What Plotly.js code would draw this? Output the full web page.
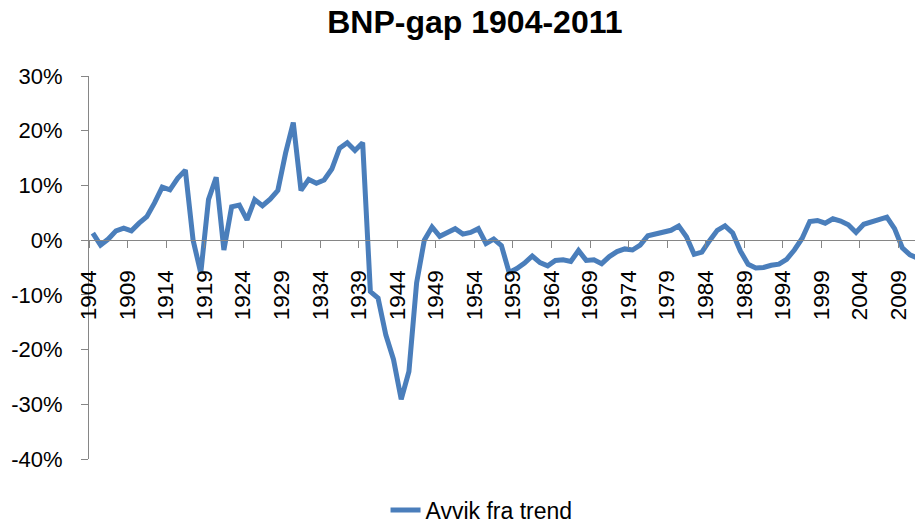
<!DOCTYPE html>
<html>
<head>
<meta charset="utf-8">
<script src="https://cdn.plot.ly/plotly-3.0.1.min.js"></script>
<style>html,body{margin:0;padding:0;background:#fff;}#chart{width:915px;height:524px;}</style>
</head>
<body>
<div id="chart"></div>
<script>
// Years 1904-2011
const years = [];
for (let y = 1904; y <= 2011; y++) years.push(y);

// Deviation from trend, percent
const gap = [
  1.3, -0.9, 0.2, 1.7, 2.2, 1.7, 3.1, 4.3, 6.8, 9.7,        // 1904-1913
  9.2, 11.3, 12.8, 0.0, -6.0, 7.4, 11.5, -1.8, 6.1, 6.4,     // 1914-1923
  3.7, 7.4, 6.3, 7.5, 9.1, 15.9, 21.5, 9.1, 11.1, 10.4,      // 1924-1933
  11.0, 13.0, 16.8, 17.8, 16.4, 17.8, -9.4, -10.6, -17.3, -21.8, // 1934-1943
  -29.1, -24.0, -7.8, 0.0, 2.4, 0.7, 1.4, 2.1, 1.1, 1.4,     // 1944-1953
  2.1, -0.6, 0.2, -1.0, -5.9, -5.2, -4.2, -2.9, -4.1, -4.7,  // 1954-1963
  -3.7, -3.6, -3.9, -1.9, -3.7, -3.6, -4.3, -3.0, -2.1, -1.6, // 1964-1973
  -1.8, -0.9, 0.8, 1.1, 1.3, 1.8, 2.6, 0.6, -2.6, -2.2,      // 1974-1983
  -0.1, 1.8, 2.6, 1.3, -2.0, -4.4, -5.1, -5.0, -4.6, -4.4,   // 1984-1993
  -3.5, -1.8, 0.3, 3.4, 3.6, 3.1, 3.9, 3.5, 2.8, 1.4,        // 1994-2003
  2.9, 3.3, 3.6, 4.2, 2.1, -1.4, -2.7, -3.3                  // 2004-2011
];

// Labelled categories on the x axis (every fifth year)
const yearLabels = [];
for (let y = 1904; y <= 2009; y += 5) yearLabels.push(y);

// Y axis ticks
const yTickVals = [-40, -30, -20, -10, 0, 10, 20, 30];
const yTickText = ['-40%', '-30%', '-20%', '-10%', '0%', '10%', '20%', '30%'];

const seriesName = 'Avvik fra trend';
const chartTitle = 'BNP-gap 1904-2011';

const FONT = 'Liberation Sans, Arial, sans-serif';
const AXIS_COLOR = '#868686';
const yMin = -40, yMax = 30;

const trace = {
  x: years,
  y: gap,
  type: 'scatter',
  mode: 'lines',
  name: seriesName,
  line: {color: '#4a7ebb', width: 5},
  hoverinfo: 'x+y'
};

const layout = {
  width: 915,
  height: 524,
  margin: {l: 89, r: 0, t: 76, b: 65, autoexpand: false},
  paper_bgcolor: '#ffffff',
  plot_bgcolor: '#ffffff',
  font: {family: FONT, color: '#000000', size: 22},
  title: {
    text: chartTitle,
    font: {family: FONT, size: 32, weight: 'bold', color: '#000000'},
    x: 0.519, xanchor: 'center',
    y: 0.958, yanchor: 'middle'
  },
  showlegend: true,
  legend: {
    orientation: 'h',
    x: 0.359, xanchor: 'left',
    y: -0.133, yanchor: 'middle',
    font: {family: FONT, size: 23, color: '#000000'},
    bgcolor: 'rgba(0,0,0,0)'
  },
  xaxis: {
    type: 'linear',
    range: [1903.5, 2010.65],
    anchor: 'free',
    position: (0 - yMin) / (yMax - yMin),
    tickmode: 'array',
    tickvals: yearLabels.map(v => v - 0.5),
    ticktext: yearLabels.map(String),
    tickangle: -90,
    ticklabelshift: 3.9,
    ticklabelstandoff: 13,
    ticks: 'outside',
    ticklen: 7,
    tickwidth: 1,
    tickcolor: AXIS_COLOR,
    showline: true,
    linecolor: AXIS_COLOR,
    linewidth: 1,
    showgrid: false,
    zeroline: false,
    tickfont: {family: FONT, size: 22.5, color: '#000000'}
  },
  yaxis: {
    range: [yMin, yMax],
    tickmode: 'array',
    tickvals: yTickVals,
    ticktext: yTickText,
    ticks: 'outside',
    ticklen: 7,
    tickwidth: 1,
    tickcolor: AXIS_COLOR,
    ticklabelstandoff: 14,
    showline: true,
    linecolor: AXIS_COLOR,
    linewidth: 1,
    showgrid: false,
    zeroline: false,
    tickfont: {family: FONT, size: 22, color: '#000000'}
  }
};

Plotly.newPlot('chart', [trace], layout, {displayModeBar: false, staticPlot: true});
</script>
</body>
</html>
